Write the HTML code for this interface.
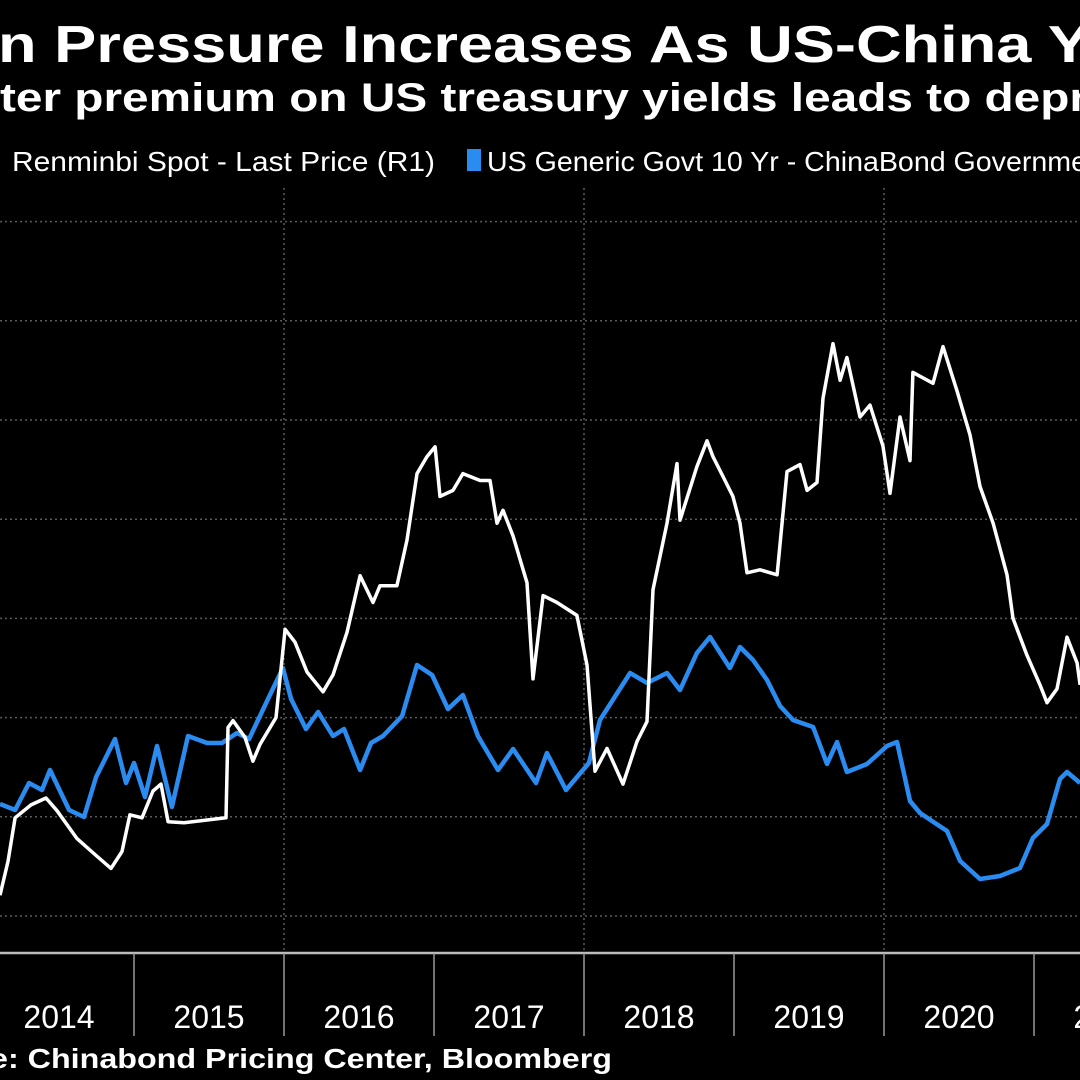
<!DOCTYPE html>
<html><head><meta charset="utf-8"><style>
html,body{margin:0;padding:0;background:#000;width:1080px;height:1080px;overflow:hidden}
svg{display:block}
text{font-family:"Liberation Sans Narrow","Liberation Sans",sans-serif;fill:#fff}
</style></head><body>
<svg id="chart" width="1080" height="1080" viewBox="0 0 1080 1080" xmlns="http://www.w3.org/2000/svg">
<rect width="1080" height="1080" fill="#000"/>
<text x="-2" y="62" font-size="52" font-weight="bold" textLength="1092" lengthAdjust="spacingAndGlyphs" style="font-family:'Liberation Sans',sans-serif">n Pressure Increases As US-China Y</text>
<text x="0" y="111" font-size="40" font-weight="bold" textLength="1088" lengthAdjust="spacingAndGlyphs" style="font-family:'Liberation Sans',sans-serif">ter premium on US treasury yields leads to depr</text>
<text x="12" y="171" font-size="28" fill="#ddd" textLength="423" lengthAdjust="spacingAndGlyphs">Renminbi Spot - Last Price (R1)</text>
<rect x="467" y="149" width="14" height="22" fill="#2a8cf0"/>
<text x="487" y="171" font-size="28" fill="#ddd" textLength="600" lengthAdjust="spacingAndGlyphs">US Generic Govt 10 Yr - ChinaBond Governme</text>
<g id="grid"></g>
<g id="axis"></g>
<g id="series"></g>
<text x="-10" y="1068" font-size="28" font-weight="bold" textLength="622" lengthAdjust="spacingAndGlyphs" style="font-family:'Liberation Sans',sans-serif">e: Chinabond Pricing Center, Bloomberg</text>
</svg>
<script>
const years = [2014,2015,2016,2017,2018,2019,2020,2021,2022];
const cnyTicks = [6.0,6.2,6.4,6.6,6.8,7.0,7.2,7.4];
const cnyDates = [2014.107,2014.16,2014.207,2014.313,2014.413,2014.487,2014.62,2014.747,2014.847,2014.92,2014.973,2015.053,2015.127,2015.18,2015.227,2015.333,2015.613,2015.627,2015.66,2015.74,2015.793,2015.84,2015.947,2016.007,2016.073,2016.153,2016.26,2016.327,2016.42,2016.507,2016.593,2016.64,2016.753,2016.82,2016.887,2016.953,2017.007,2017.04,2017.127,2017.193,2017.307,2017.373,2017.42,2017.46,2017.527,2017.62,2017.66,2017.727,2017.82,2017.953,2018.02,2018.073,2018.153,2018.26,2018.353,2018.42,2018.46,2018.553,2018.62,2018.64,2018.753,2018.82,2018.86,2018.927,2018.993,2019.04,2019.087,2019.173,2019.287,2019.353,2019.44,2019.487,2019.553,2019.593,2019.66,2019.707,2019.753,2019.84,2019.907,2019.993,2020.04,2020.107,2020.173,2020.193,2020.327,2020.393,2020.487,2020.573,2020.64,2020.727,2020.82,2020.86,2020.953,2021.04,2021.087,2021.153,2021.22,2021.287,2021.307];
const cnyValues = [6.042,6.11,6.198,6.224,6.238,6.212,6.156,6.122,6.096,6.13,6.204,6.198,6.252,6.266,6.19,6.188,6.198,6.38,6.394,6.36,6.312,6.346,6.40,6.578,6.552,6.492,6.452,6.486,6.572,6.686,6.632,6.666,6.666,6.758,6.892,6.926,6.946,6.846,6.858,6.892,6.878,6.878,6.792,6.818,6.766,6.672,6.478,6.646,6.632,6.606,6.506,6.292,6.338,6.266,6.352,6.392,6.658,6.792,6.912,6.798,6.906,6.958,6.926,6.886,6.846,6.792,6.692,6.698,6.688,6.896,6.91,6.858,6.874,7.044,7.154,7.08,7.126,7.006,7.03,6.948,6.852,7.006,6.918,7.096,7.074,7.148,7.058,6.97,6.866,6.792,6.688,6.60,6.526,6.466,6.43,6.458,6.562,6.51,6.466];
const spreadDates = [2014.107,2014.207,2014.3,2014.387,2014.44,2014.567,2014.667,2014.747,2014.873,2014.947,2015.0,2015.073,2015.153,2015.253,2015.36,2015.487,2015.587,2015.687,2015.767,2015.893,2015.993,2016.047,2016.147,2016.227,2016.327,2016.4,2016.507,2016.58,2016.66,2016.787,2016.887,2016.987,2017.093,2017.193,2017.293,2017.427,2017.527,2017.68,2017.753,2017.88,2018.033,2018.107,2018.307,2018.42,2018.553,2018.64,2018.753,2018.84,2018.973,2019.04,2019.127,2019.22,2019.307,2019.393,2019.527,2019.62,2019.687,2019.753,2019.887,2020.02,2020.087,2020.173,2020.24,2020.42,2020.507,2020.64,2020.773,2020.907,2020.993,2021.087,2021.173,2021.22,2021.307];
const spreadValues = [-0.92,-0.95,-0.815,-0.85,-0.75,-0.95,-0.985,-0.785,-0.595,-0.815,-0.715,-0.885,-0.63,-0.935,-0.58,-0.615,-0.615,-0.565,-0.595,-0.395,-0.24,-0.395,-0.545,-0.46,-0.58,-0.545,-0.75,-0.615,-0.58,-0.48,-0.225,-0.275,-0.445,-0.375,-0.58,-0.75,-0.645,-0.815,-0.665,-0.85,-0.715,-0.50,-0.265,-0.315,-0.265,-0.35,-0.165,-0.085,-0.24,-0.135,-0.2,-0.30,-0.43,-0.50,-0.535,-0.72,-0.61,-0.76,-0.72,-0.63,-0.61,-0.905,-0.965,-1.055,-1.205,-1.295,-1.28,-1.24,-1.09,-1.02,-0.795,-0.76,-0.815];

const NS = "http://www.w3.org/2000/svg";
function xScale(t){ return 134 + (t - 2015) * 150; }
function yRight(v){ return 916 - (v - 6.0) * 496; }
function yLeft(v){ return 620 - v * 200; }
function mk(tag, attrs, parent){ const e = document.createElementNS(NS, tag); for (const k in attrs) e.setAttribute(k, attrs[k]); parent.appendChild(e); return e; }

const grid = document.getElementById('grid');
cnyTicks.forEach(v => {
  const y = yRight(v);
  if (y < 200 || y > 940) return;
  const l = mk('line', {x1:0, x2:1080, y1:y, y2:y, stroke:'#5a5a5a', 'stroke-width':1.5, 'stroke-dasharray':'2 3'}, grid);
  
  
});
[2016, 2018, 2020].forEach(yr => {
  const x = xScale(yr);
  const l = mk('line', {x1:x, x2:x, y1:188, y2:952, stroke:'#5a5a5a', 'stroke-width':1.5, 'stroke-dasharray':'2 3'}, grid);
  
  
});

const axis = document.getElementById('axis');
const al = mk('line', {x1:0, x2:1080, y1:953, y2:953, stroke:'#bdbdbd', 'stroke-width':2.5}, axis);


years.forEach(yr => {
  const x = xScale(yr);
  const t = mk('line', {x1:x, x2:x, y1:953, y2:1036, stroke:'#999', 'stroke-width':1.5}, axis);
  
  
  const lx = xScale(yr - 0.5);
  const tx = mk('text', {x:lx, y:1028, 'font-size':32, 'text-anchor':'middle', fill:'#e8e8e8'}, axis);
  tx.textContent = String(yr - 1);
  
  
});

const series = document.getElementById('series');
function path(dates, vals, yf){ return dates.map((d,i)=> (i?'L':'M') + xScale(d).toFixed(1) + ' ' + yf(vals[i]).toFixed(1)).join(' '); }
const sp = mk('path', {d:path(spreadDates, spreadValues, yLeft), fill:'none', stroke:'#2a8cf0', 'stroke-width':4.5, 'stroke-linejoin':'round'}, series);


const cp = mk('path', {d:path(cnyDates, cnyValues, yRight), fill:'none', stroke:'#ffffff', 'stroke-width':3.5, 'stroke-linejoin':'round'}, series);


</script>
</body></html>
